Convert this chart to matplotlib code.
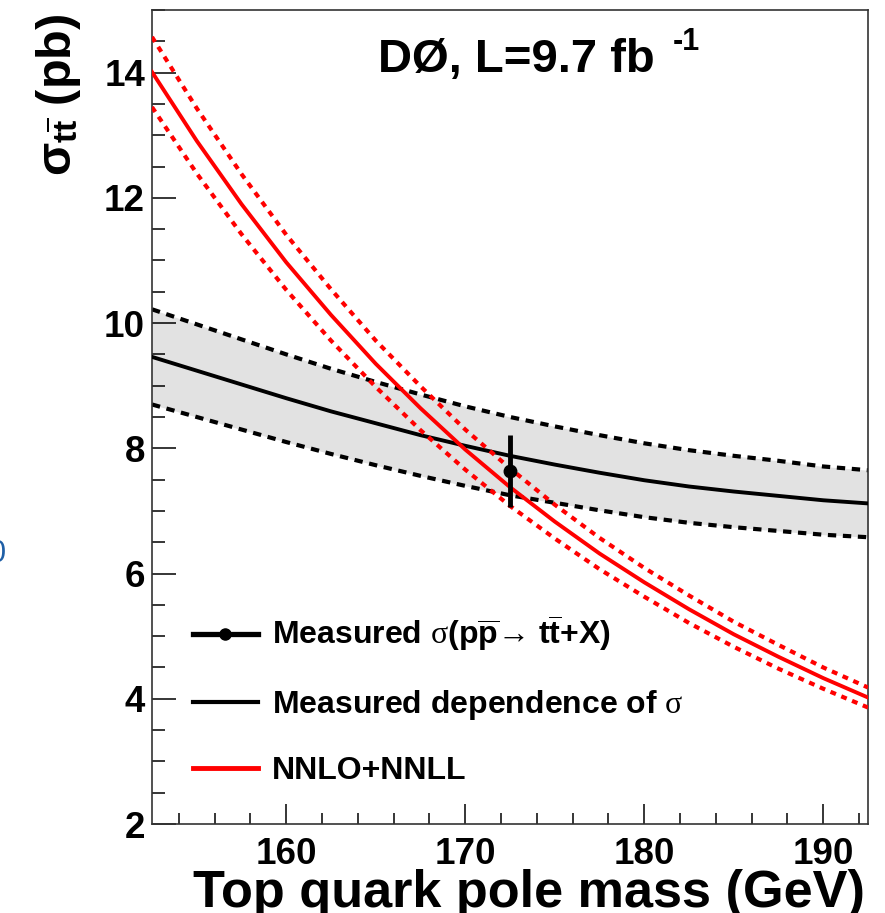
import matplotlib
matplotlib.use('Agg')
import matplotlib.pyplot as plt
from matplotlib.lines import Line2D
from matplotlib.ticker import MultipleLocator

plt.rcParams['font.family'] = ['Liberation Sans', 'DejaVu Sans']
plt.rcParams['font.weight'] = 'bold'
plt.rcParams['mathtext.fontset'] = 'custom'
plt.rcParams['mathtext.rm'] = 'Liberation Sans:bold'
plt.rcParams['mathtext.bf'] = 'Liberation Sans:bold'
plt.rcParams['mathtext.it'] = 'Liberation Serif:weight=normal'

# top quark pole mass grid (GeV)
mass = [152.5, 155.0, 157.5, 160.0, 162.5, 165.0, 167.5, 170.0, 172.5,
        175.0, 177.5, 180.0, 182.5, 185.0, 187.5, 190.0, 192.5]

# NNLO+NNLL prediction with its uncertainty (pb)
theory = [14.01, 12.91, 11.90, 10.97, 10.13, 9.35, 8.64, 7.98, 7.38,
          6.83, 6.32, 5.86, 5.43, 5.03, 4.67, 4.33, 4.02]
theory_hi = [14.57, 13.43, 12.38, 11.41, 10.54, 9.72, 8.99, 8.30, 7.68,
             7.10, 6.57, 6.09, 5.65, 5.23, 4.86, 4.50, 4.18]
theory_lo = [13.45, 12.39, 11.42, 10.53, 9.72, 8.98, 8.29, 7.66, 7.08,
             6.56, 6.07, 5.63, 5.21, 4.83, 4.48, 4.16, 3.86]

# measured mass dependence of the cross section (pb)
meas = [9.46, 9.24, 9.02, 8.80, 8.59, 8.40, 8.21, 8.04, 7.88,
        7.74, 7.61, 7.49, 7.39, 7.31, 7.24, 7.17, 7.12]
meas_hi = [10.22, 9.98, 9.74, 9.50, 9.27, 9.06, 8.86, 8.67, 8.50,
           8.35, 8.21, 8.08, 7.97, 7.88, 7.80, 7.71, 7.65]
meas_lo = [8.70, 8.50, 8.30, 8.10, 7.91, 7.73, 7.56, 7.40, 7.25,
           7.13, 7.01, 6.90, 6.81, 6.74, 6.68, 6.62, 6.58]

# measured cross section at the reference mass
pt_mass = 172.5
pt_xsec = 7.63
pt_err_lo = 0.57
pt_err_hi = 0.58

W, H = 885, 913
fig = plt.figure(figsize=(W / 100, H / 100), dpi=100)
ax = fig.add_axes([152 / W, 89 / H, 716 / W, 814 / H])

red = '#ff0000'
ax.fill_between(mass, meas_lo, meas_hi, color='#e2e2e2', lw=0, zorder=1)
ax.plot(mass, meas_hi, color='k', lw=3, ls=(0, (2.0, 1.6)), zorder=2)
ax.plot(mass, meas_lo, color='k', lw=3, ls=(0, (2.0, 1.6)), zorder=2)
ax.plot(mass, meas, color='k', lw=2.8, zorder=3)

ax.plot(mass, theory_hi, color=red, lw=3, ls=(0, (1.4, 1.4)), zorder=4)
ax.plot(mass, theory_lo, color=red, lw=3, ls=(0, (1.4, 1.4)), zorder=4)
ax.plot(mass, theory, color=red, lw=2.8, zorder=5)

ax.errorbar([pt_mass], [pt_xsec], yerr=[[pt_err_lo], [pt_err_hi]], fmt='o',
            color='k', ms=9, elinewidth=3.5, capsize=0, zorder=6)

ax.set_xlim(152.5, 192.5)
ax.set_ylim(2, 15)
ax.xaxis.set_major_locator(MultipleLocator(10))
ax.xaxis.set_minor_locator(MultipleLocator(2))
ax.yaxis.set_major_locator(MultipleLocator(2))
ax.yaxis.set_minor_locator(MultipleLocator(0.5))
ax.tick_params(which='both', direction='in', top=False, right=False,
               width=1.1, labelsize=26.5)
ax.tick_params(axis='x', which='major', length=14.5, pad=9)
ax.tick_params(axis='x', which='minor', length=8)
ax.tick_params(axis='y', which='major', length=17, pad=5)
ax.tick_params(axis='y', which='minor', length=9)
for lab in ax.get_xticklabels() + ax.get_yticklabels():
    lab.set_fontweight('bold')
for sp in ax.spines.values():
    sp.set_linewidth(1.2)
    sp.set_color('#333333')

ax.set_xlabel('Top quark pole mass (GeV)', fontsize=37.6, fontweight='bold',
              loc='right')
ax.xaxis.set_label_coords(0.996, -0.055)
ax.set_ylabel(r'$\mathrm{σ}_{\mathrm{t\overline{t}}}$ (pb)', fontsize=35,
              fontweight='bold', loc='top')
ax.yaxis.set_label_coords(-0.096, 0.996)

fig.text(378 / W, 1 - 72 / H, 'DØ, L=9.7 fb', fontsize=34, fontweight='bold',
         ha='left', va='baseline')
fig.text(673 / W, 1 - 50 / H, '-1', fontsize=22, fontweight='bold',
         ha='left', va='baseline')

handles = [
    Line2D([], [], color='k', lw=3.8, marker='o', ms=8),
    Line2D([], [], color='k', lw=3),
    Line2D([], [], color=red, lw=3.5),
]
labels = [
    r'Measured $\sigma$(p$\overline{\mathrm{p}}$→ t$\overline{\mathrm{t}}$+X)',
    r'Measured dependence of $\sigma$',
    'NNLO+NNLL',
]
ax.legend(handles, labels, loc='upper left', bbox_to_anchor=(0.057, 0.258),
          frameon=False, fontsize=23, handlelength=2.04, handletextpad=0.43,
          labelspacing=1.07, borderpad=0, borderaxespad=0)

# stray label clipped at the left edge
fig.text(6 / W, 1 - 554 / H, '0', color='#1f5fa6', fontsize=22,
         fontweight='normal', ha='right', va='center')

fig.savefig('out.png', dpi=100)
